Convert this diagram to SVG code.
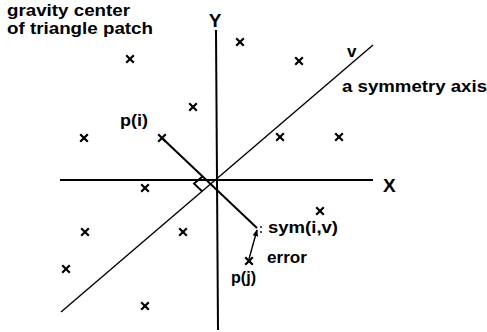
<svg xmlns="http://www.w3.org/2000/svg" width="487" height="332" viewBox="0 0 487 332">
<defs>
<style>
.t{font-family:"Liberation Sans",Arial,Helvetica,sans-serif;font-weight:bold;font-size:17px;fill:#000}
.h{font-size:16px}
.ax{stroke:#000;stroke-width:2;fill:none}
.thin{stroke:#000;stroke-width:1.4;fill:none}
.cr{stroke:#000;stroke-width:2.2;fill:none}
</style>
<path id="x" d="M-3.8,-3.8L3.8,3.8M-3.8,3.8L3.8,-3.8" class="cr"/>
<marker id="ah" viewBox="0 0 10 10" refX="9" refY="5" markerWidth="5" markerHeight="5" orient="auto">
<path d="M0,1L10,5L0,9z" fill="#000"/>
</marker>
</defs>
<rect width="487" height="332" fill="#fff"/>
<g id="connectors">
<line class="ax" x1="60" y1="180" x2="373" y2="180"/>
<line class="ax" x1="216" y1="30" x2="218" y2="330"/>
<line class="thin" x1="61" y1="312" x2="373" y2="45"/>
<line class="ax" x1="162" y1="138" x2="257" y2="228"/>
<polyline class="ax" points="202.5,176.4 194.1,183.6 202.1,191.2"/>
<line class="thin" x1="249" y1="259" x2="257" y2="230" marker-end="url(#ah)"/>
<circle cx="261" cy="227" r="0.9" fill="#000"/>
<circle cx="261" cy="232" r="0.9" fill="#000"/>
</g>
<g id="label-gravity"><text class="t h" x="7" y="16" textLength="123" lengthAdjust="spacingAndGlyphs">gravity center</text><text class="t h" x="7" y="34" textLength="146" lengthAdjust="spacingAndGlyphs">of triangle patch</text></g>
<g id="axis-Y"><text class="t" x="215" y="27" style="font-size:19px" text-anchor="middle">Y</text></g>
<g id="axis-X"><text class="t" x="383" y="192" style="font-size:19px">X</text></g>
<g id="axis-v"><text class="t" x="347" y="57">v</text><text class="t" x="342" y="92" textLength="145" lengthAdjust="spacingAndGlyphs">a symmetry axis</text></g>
<g id="p1"><use href="#x" x="240" y="42"/></g>
<g id="p2"><use href="#x" x="130" y="59"/></g>
<g id="p3"><use href="#x" x="299" y="61"/></g>
<g id="p4"><use href="#x" x="193" y="107"/></g>
<g id="p5"><use href="#x" x="84" y="138"/></g>
<g id="pi"><use href="#x" x="162" y="138"/><text class="t" x="120" y="126" textLength="28" lengthAdjust="spacingAndGlyphs">p(i)</text></g>
<g id="p7"><use href="#x" x="280" y="137"/></g>
<g id="p8"><use href="#x" x="339" y="137"/></g>
<g id="p9"><use href="#x" x="145" y="188"/></g>
<g id="p10"><use href="#x" x="320" y="211"/></g>
<g id="p11"><use href="#x" x="85" y="232"/></g>
<g id="p12"><use href="#x" x="183" y="232"/></g>
<g id="p13"><use href="#x" x="66" y="269"/></g>
<g id="p14"><use href="#x" x="145" y="306"/></g>
<g id="pj"><use href="#x" x="249" y="261"/><text class="t" x="231" y="283" textLength="25" lengthAdjust="spacingAndGlyphs">p(j)</text></g>
<g id="sym"><text class="t" x="268" y="233" textLength="70" lengthAdjust="spacingAndGlyphs">sym(i,v)</text></g>
<g id="error"><text class="t" x="267" y="263" textLength="40" lengthAdjust="spacingAndGlyphs">error</text></g>
</svg>
